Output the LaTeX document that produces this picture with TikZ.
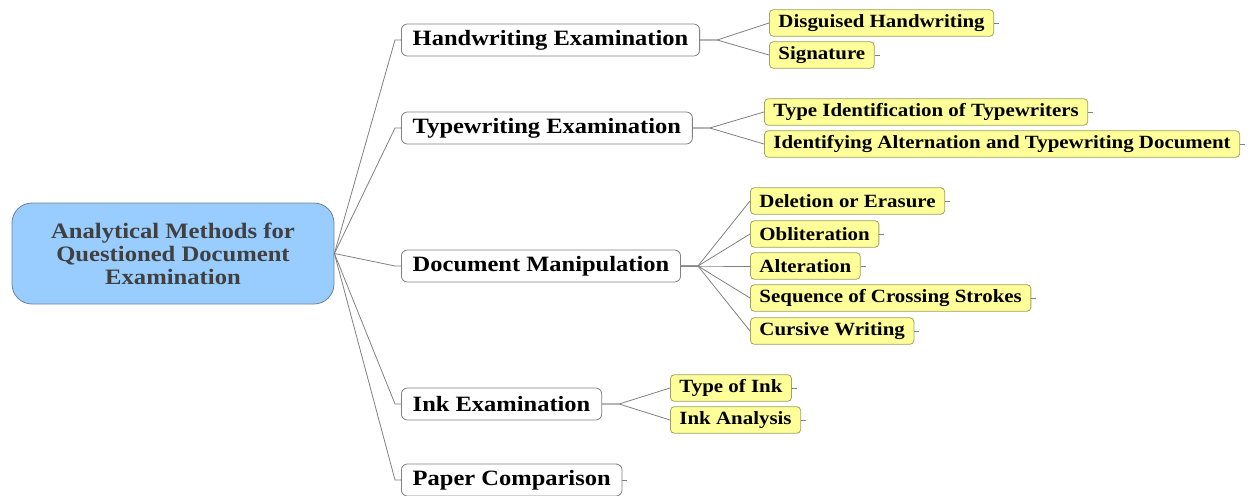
\documentclass[tikz,border=0pt]{standalone}
\usepackage{fontspec}
\setmainfont{Liberation Serif}[FakeStretch=1.12]
\usepackage{tikz}
\usetikzlibrary{positioning,calc}
\definecolor{bleuRoot}{RGB}{153,204,255}
\definecolor{bordRoot}{RGB}{110,130,150}
\definecolor{jauneLeaf}{RGB}{255,255,153}
\definecolor{bordLeaf}{RGB}{160,160,100}
\definecolor{grisLien}{RGB}{128,128,128}

\begin{document}
\begin{tikzpicture}[x=0.75pt,y=-0.75pt,
  root/.style={rectangle,rounded corners=15pt,minimum width=241.5pt,minimum height=75.75pt,
               align=center,draw=bordRoot,fill=bleuRoot,line width=0.6pt,text=black!75,
               font=\fontsize{16.5}{17.25}\selectfont\bfseries},
  br/.style={rectangle,rounded corners=4.5pt,anchor=west,minimum height=24pt,inner xsep=8.5pt,
             draw=grisLien,fill=white,line width=0.6pt,font=\fontsize{16.4}{18}\selectfont\bfseries},
  lf/.style={rectangle,rounded corners=3pt,anchor=west,minimum height=20pt,inner xsep=6.8pt,
             draw=bordLeaf,fill=jauneLeaf,line width=0.6pt,font=\fontsize{14}{16}\selectfont\bfseries},
  link/.style={grisLien,line width=0.6pt}]

  \useasboundingbox (0,0) rectangle (1253,496);

  \node[root] (root) at (173,253.5) {Analytical Methods for\\Questioned Document\\Examination};

  % branches
  \node[br] (hw) at (401,40)  {Handwriting Examination};
  \node[br] (tw) at (401,128) {Typewriting Examination};
  \node[br] (dm) at (401,266) {Document Manipulation};
  \node[br] (ie) at (401,404) {Ink Examination};
  \node[br] (pc) at (401,480) {Paper Comparison};

  % leaves
  \node[lf] (dh) at (769,23)  {Disguised Handwriting};
  \node[lf] (sg) at (769,55)  {Signature};
  \node[lf] (ti) at (764,112) {Type Identification of Typewriters};
  \node[lf] (ia) at (764,144) {Identifying Alternation and Typewriting Document};
  \node[lf] (de) at (750,201) {Deletion or Erasure};
  \node[lf] (ob) at (750,234) {Obliteration};
  \node[lf] (al) at (750,266) {Alteration};
  \node[lf] (sc) at (750,298) {Sequence of Crossing Strokes};
  \node[lf] (cw) at (750,331) {Cursive Writing};
  \node[lf] (tk) at (670,388) {Type of Ink};
  \node[lf] (an) at (670,420) {Ink Analysis};

  \foreach \b in {hw,tw,dm,ie,pc}
    \draw[link] (root.east) -- ($(\b.west)+(-6,0)$) -- (\b.west);

  \foreach \l in {dh,sg} \draw[link] (hw.east) -- ++(17,0) -- (\l.west);
  \foreach \l in {ti,ia} \draw[link] (tw.east) -- ++(17,0) -- (\l.west);
  \foreach \l in {de,ob,al,sc,cw} \draw[link] (dm.east) -- ++(17,0) -- (\l.west);
  \foreach \l in {tk,an} \draw[link] (ie.east) -- ++(17,0) -- (\l.west);

  \foreach \l in {dh,sg,ti,ia,de,ob,al,sc,cw,tk,an,pc}
    \draw[link] (\l.east) -- ++(5,0);
\end{tikzpicture}
\end{document}
